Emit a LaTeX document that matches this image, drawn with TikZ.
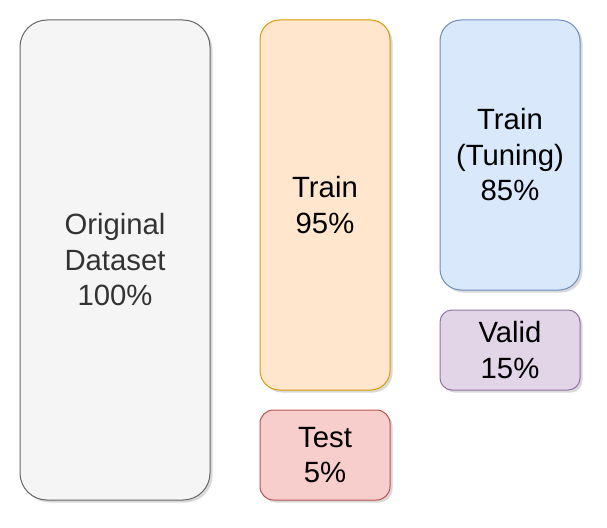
\documentclass[tikz,border=0pt]{standalone}
\usepackage{fontspec}
\setmainfont{Liberation Sans}
\usetikzlibrary{shadows}
\definecolor{grayfill}{HTML}{F5F5F5}
\definecolor{grayline}{HTML}{666666}
\definecolor{grayText}{HTML}{333333}
\definecolor{orangefill}{HTML}{FFE6CC}
\definecolor{orangeline}{HTML}{D79B00}
\definecolor{redfill}{HTML}{F8CECC}
\definecolor{redline}{HTML}{B85450}
\definecolor{bluefill}{HTML}{DAE8FC}
\definecolor{blueline}{HTML}{6C8EBF}
\definecolor{purplefill}{HTML}{E1D5E7}
\definecolor{purpleline}{HTML}{9673A6}
\tikzset{
  box/.style={rectangle, line width=1pt, align=center, inner sep=0pt,
    font=\fontsize{29.3}{35.5}\selectfont,
    drop shadow={shadow xshift=2.5pt, shadow yshift=-2.5pt, opacity=0.25, fill=black!60}},
}
\begin{document}
\begin{tikzpicture}[x=1pt,y=-1pt]
\useasboundingbox (0,0) rectangle (607,527);
\node[box, draw=grayline, fill=grayfill, text=grayText, minimum width=190pt, minimum height=480pt, rounded corners=27pt] (orig) at (115,260) {Original\\Dataset\\100\%};
\node[box, draw=orangeline, fill=orangefill, minimum width=130pt, minimum height=370pt, rounded corners=19.5pt] (train) at (325,205) {Train\\95\%};
\node[box, draw=redline, fill=redfill, minimum width=130pt, minimum height=90pt, rounded corners=13.5pt] (test) at (325,455) {Test\\5\%};
\node[box, draw=blueline, fill=bluefill, minimum width=140pt, minimum height=270pt, rounded corners=21pt] (tune) at (510,155) {Train\\(Tuning)\\85\%};
\node[box, draw=purpleline, fill=purplefill, minimum width=140pt, minimum height=80pt, rounded corners=12pt] (valid) at (510,350) {Valid\\15\%};
\end{tikzpicture}
\end{document}
